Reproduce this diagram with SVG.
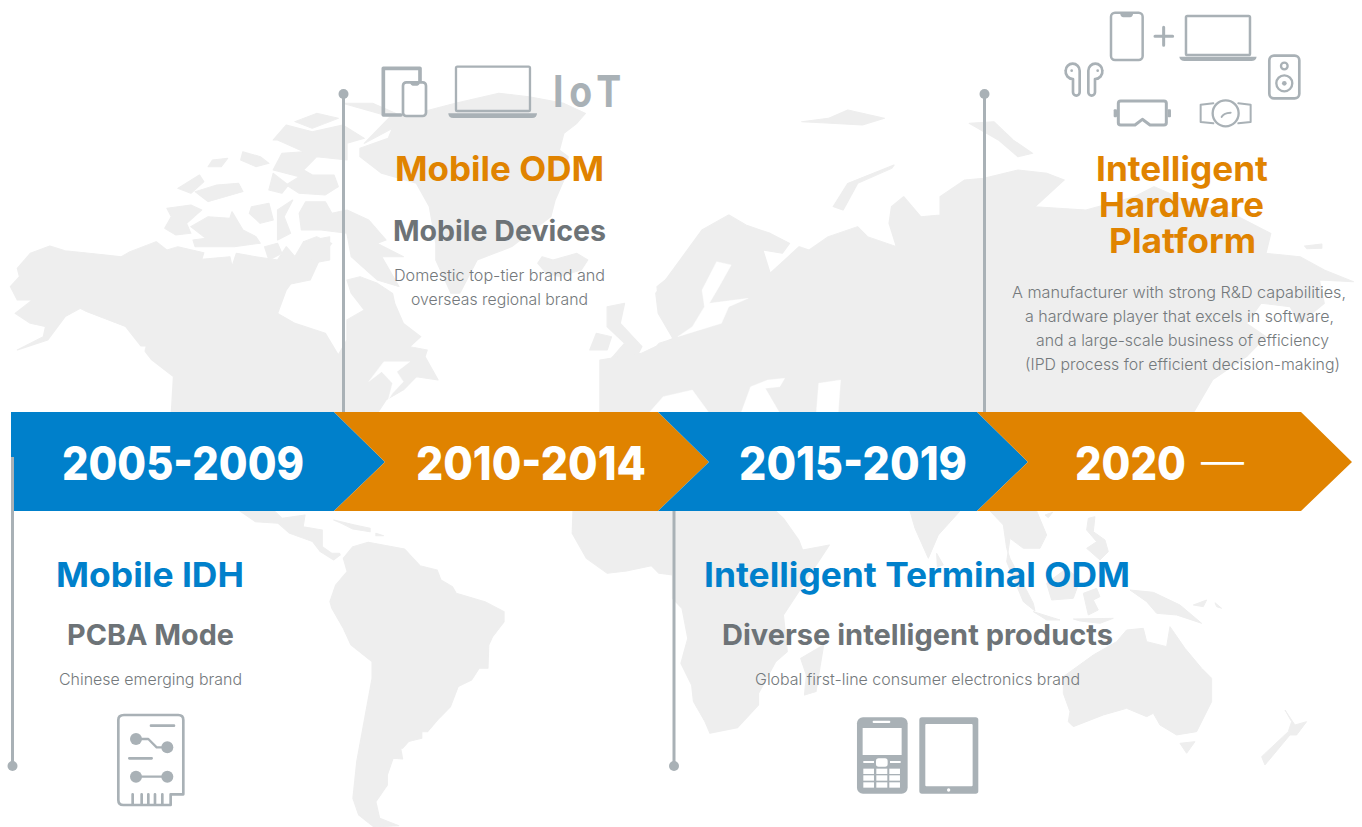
<svg xmlns="http://www.w3.org/2000/svg" width="1362" height="827" viewBox="0 0 1362 827">
<style>
.land{fill:#eeeeee;stroke:#eeeeee;stroke-width:3;stroke-linejoin:round}
.gap{fill:#ffffff;stroke:#ffffff;stroke-width:1;stroke-linejoin:round}
.t{font-family:"Inter","Noto Sans",sans-serif;text-anchor:start}
.yr{font-size:47px;font-weight:800;fill:#ffffff}
.h1{font-size:34px;font-weight:700}
.h2{font-size:29px;font-weight:700;fill:#6d7377}
.d{font-size:16px;font-weight:300;fill:#74797c}
.o{fill:#e08300}
.b{fill:#0080cb}
.ic{fill:none;stroke:#a9b1b6;stroke-linejoin:round;stroke-linecap:round}
.if{fill:#a9b1b6}
.w{fill:#ffffff}
.lk{stroke:#a9b1b6;stroke-width:3;fill:none}
.dot{fill:#a9b1b6}
</style>
<rect width="1362" height="827" fill="#ffffff"/>
<g id="map">
<g transform="translate(0,60) scale(.4337,.3333)">
<polygon class="land" points="24,680 45,650 40,625 70,580 115,558 150,572 280,590 300,575 360,545 385,570 410,560 470,578 465,598 530,590 535,620 545,580 590,590 640,600 660,560 680,590 700,545 730,530 765,550 740,590 715,660 670,672 660,690 640,760 680,790 750,820 780,885 800,840 800,780 840,750 810,700 800,660 830,650 870,670 905,700 910,730 930,790 970,830 945,860 985,870 980,890 1010,960 960,950 930,990 890,1020 870,1060 395,1060 400,950 350,900 320,850 290,800 200,755 185,745 150,770 110,840 40,870 100,830 105,800 70,790 35,760 75,720 40,720"/>
<polygon class="gap" points="850,965 885,905 945,905 915,935 930,965 905,1000 895,1020 905,970 880,935"/>
<polygon class="gap" points="315,860 335,860 330,890 318,885"/>
<polygon class="land" points="385,445 440,435 465,450 430,490 440,520 405,525 380,505 395,470"/>
<polygon class="land" points="440,500 480,470 530,475 535,455 560,510 590,530 600,550 540,560 450,560 445,540 475,535"/>
<polygon class="land" points="410,385 460,345 470,365 440,400"/>
<polygon class="land" points="450,395 500,375 550,370 560,395 480,425"/>
<polygon class="land" points="490,300 525,295 510,320 480,320"/>
<polygon class="land" points="560,275 600,290 620,310 590,320 555,300"/>
<polygon class="land" points="630,240 660,195 720,215 790,195 840,235 800,250 800,300 730,290 700,330 720,345 770,345 780,380 750,405 690,400 660,375 690,350 630,330 650,280 700,275 640,240"/>
<polygon class="land" points="680,185 730,160 780,175 720,205"/>
<polygon class="land" points="690,460 705,425 750,425 765,460 800,450 850,480 890,540 870,550 930,590 880,590 920,680 870,660 810,590 800,520 740,510 695,510"/>
<polygon class="land" points="640,450 675,420 655,470 670,520 640,540"/>
<polygon class="land" points="580,440 620,430 630,480 600,490 575,460"/>
<polygon class="land" points="610,560 640,550 650,580 620,600"/>
<polygon class="land" points="700,545 760,530 760,600 720,610"/>
<polygon class="land" points="630,340 665,375 650,400 620,390"/>
<polygon class="land" points="790,130 860,130 930,170 1050,130 1150,100 1220,110 1300,130 1350,160 1330,190 1300,220 1290,270 1310,290 1300,360 1280,420 1270,470 1180,560 1100,600 1060,700 1040,700 1005,600 1005,550 990,440 960,370 880,340 830,290 830,265 895,235 905,205 840,250 900,170"/>
<polygon class="land" points="1240,610 1250,590 1275,600 1330,580 1355,600 1340,630 1290,650 1260,640"/>
<polygon class="land" points="1400,740 1440,730 1430,790 1480,860 1470,885 1410,895 1440,850 1400,800"/>
<polygon class="land" points="1360,870 1375,820 1410,830 1400,870"/>
<polygon class="land" points="1390,1060 1385,1020 1450,1000 1430,930 1500,880 1520,850 1568,830 1568,1060"/>
<polygon class="land" points="1515,680 1568,625 1568,750 1520,750"/>
</g>
<g transform="translate(600,90) scale(.486,.3333)">
<polygon class="land" points="115,610 180,480 210,420 265,375 300,405 350,430 390,460 375,490 335,480 350,550 380,510 410,470 430,480 470,440 530,410 550,440 610,470 595,400 600,350 625,320 660,380 700,375 700,320 750,270 790,265 860,240 920,250 955,270 895,350 1000,360 1100,320 1140,290 1220,340 1300,370 1380,430 1370,490 1440,500 1490,540 1550,575 1480,570 1490,640 1440,700 1420,650 1360,640 1330,700 1370,740 1330,800 1260,870 1220,970 0,970 0,810 85,790 150,745 120,670"/>
<polygon class="land" points="480,350 510,280 605,225 600,235 530,280 500,360"/>
<polygon class="land" points="415,95 470,85 510,60 585,85 540,105 475,100"/>
<polygon class="land" points="760,100 810,95 850,150 890,190 860,200 820,150"/>
<polygon class="land" points="1450,468 1485,462 1485,475 1455,476"/>
<polygon class="gap" points="240,515 270,525 245,590 225,640 305,625 265,650 250,700 160,740 190,710 215,650 210,600"/>
<polygon class="gap" points="290,970 310,890 345,870 380,865 370,890 340,895 370,970"/>
<polygon class="gap" points="445,970 450,880 495,870 490,970"/>
<polygon class="gap" points="100,970 130,920 190,900 225,970"/>
</g>
<g transform="translate(240,505) scale(.3827,.3333)">
<polygon class="land" points="235,290 250,240 280,200 270,160 295,125 335,112 430,132 470,182 515,195 525,225 555,245 565,265 640,290 690,320 690,350 660,395 650,420 648,490 625,490 605,525 570,545 550,605 520,640 490,680 475,680 475,700 440,710 425,730 420,730 425,762 400,760 385,810 385,840 355,890 365,940 415,962 350,966 310,930 295,880 305,770 345,520 345,470 290,420 270,370 240,310"/>
<polygon class="land" points="0,18 40,50 100,55 130,85 190,110 210,140 245,165 262,150 260,145 240,145 215,125 215,75 165,65 170,30 110,40 90,18"/>
<polygon class="land" points="245,45 300,60 340,70 340,80 295,72 265,55"/>
<polygon class="land" points="355,85 375,92 355,92"/>
<polygon class="land" points="870,18 868,85 905,160 960,205 1010,198 1075,182 1095,205 1130,210 1130,280 1155,310 1170,400 1152,475 1180,540 1185,590 1215,650 1228,685 1300,668 1355,600 1355,565 1400,470 1430,440 1420,330 1460,260 1540,120 1470,135 1460,105 1420,40 1400,18"/>
<polygon class="land" points="1465,460 1525,420 1505,560 1475,570 1480,510"/>
</g>
<g transform="translate(860,505) scale(.3333)">
<polygon class="land" points="150,18 165,70 205,160 235,90 300,18"/>
<polygon class="land" points="230,145 250,180 232,185"/>
<polygon class="land" points="390,18 430,60 440,130 450,160 520,295 525,318 490,290 440,170 450,100 490,130 540,130 560,90 530,18"/>
<polygon class="land" points="555,30 578,22 565,38"/>
<polygon class="land" points="560,235 620,190 660,225 640,280 575,285"/>
<polygon class="land" points="685,40 705,35 700,80 735,105 745,140 720,165 680,130 710,110 680,75"/>
<polygon class="land" points="670,265 710,250 720,275 700,285 715,315 685,330"/>
<polygon class="land" points="520,320 600,345 560,345"/>
<polygon class="land" points="640,342 760,340 720,355 660,348"/>
<polygon class="land" points="810,255 880,262 960,300 1025,355 950,330 890,325 860,290"/>
<polygon class="land" points="610,515 700,450 770,410 800,375 850,370 860,410 920,425 930,365 975,430 1025,490 1055,520 1055,590 1010,680 950,690 900,660 880,625 860,635 800,610 730,630 640,665 625,650 630,620 610,565"/>
<polygon class="land" points="960,715 1005,710 980,745"/>
<polygon class="land" points="1275,615 1305,660 1340,650 1310,690 1290,690 1215,780 1205,755 1285,680 1295,650"/>
<polygon class="land" points="1000,300 1040,285 1030,305"/>
<polygon class="land" points="1065,293 1085,310 1070,305"/>
</g>
</g>
<g id="band">
<polygon class="b" points="11,412 334,412 385,462 334,511 11,511"/>
<polygon class="o" points="334,412 658,412 709,462 658,511 334,511 385,462"/>
<polygon class="b" points="658,412 977,412 1028,462 977,511 658,511 709,462"/>
<polygon class="o" points="977,412 1301,412 1352,462 1301,511 977,511 1028,462"/>
<text class="t yr" x="62" y="480" textLength="242" lengthAdjust="spacingAndGlyphs">2005-2009</text>
<text class="t yr" x="416" y="480" textLength="230" lengthAdjust="spacingAndGlyphs">2010-2014</text>
<text class="t yr" x="739" y="480" textLength="228" lengthAdjust="spacingAndGlyphs">2015-2019</text>
<text class="t yr" x="1075" y="480" textLength="111" lengthAdjust="spacingAndGlyphs">2020</text>
<text class="t" x="1201" y="477" font-size="44" font-weight="300" fill="#ffffff" textLength="43" lengthAdjust="spacingAndGlyphs">—</text>
</g>
<g id="connectors">
<path class="lk" d="M12.5 457V766M343.5 94V412M674 511V766M984.5 94V412"/>
<circle class="dot" cx="12.5" cy="766" r="5"/>
<circle class="dot" cx="343.5" cy="94" r="5"/>
<circle class="dot" cx="674" cy="766" r="5"/>
<circle class="dot" cx="984.5" cy="94" r="5"/>
</g>
<g id="node-2005">
<text class="t h1 b" x="56" y="587" textLength="188" lengthAdjust="spacingAndGlyphs">Mobile IDH</text>
<text class="t h2" x="67" y="645" textLength="167" lengthAdjust="spacingAndGlyphs">PCBA Mode</text>
<text class="t d" x="59" y="685" textLength="183" lengthAdjust="spacingAndGlyphs">Chinese emerging brand</text>
<g transform="translate(0,700) scale(.3333)">
<path class="ic" stroke-width="8" d="M372 45H535Q550 45 550 60V283H512V315H370Q355 315 355 300V60Q355 45 372 45ZM398 283V315M425 283V315M445 283V315M465 283V315M487 283V315M453 77H522M388 175H455"/>
<path class="ic" stroke-width="7" d="M408 117H445L470 142H502M408 230H502"/>
<circle class="if" cx="408" cy="117" r="18"/><circle class="if" cx="502" cy="142" r="18"/>
<circle class="if" cx="408" cy="230" r="18"/><circle class="if" cx="502" cy="230" r="18"/>
</g>
</g>
<g id="node-2010">
<g transform="translate(330,50) scale(.3333)">
<path class="ic" stroke-width="11" stroke-linecap="butt" d="M213 195H160V55H270V95"/>
<rect x="219" y="97" width="69" height="101" rx="10" fill="#ffffff" stroke="#a9b1b6" stroke-width="8"/>
<path class="if" d="M240 97H270Q268 107 262 107H248Q242 107 240 97Z"/>
<rect class="ic" stroke-width="7" x="378" y="50" width="222" height="133" rx="4"/>
<path class="if" d="M355 190H621Q621 204 606 204H370Q355 204 355 190Z"/>
</g>
<text class="t" transform="translate(553,107) scale(.85,1)" x="0 19 51" y="0" font-size="44" font-weight="700" fill="#a9b1b6">IoT</text>
<text class="t h1 o" x="395" y="181" textLength="209" lengthAdjust="spacingAndGlyphs">Mobile ODM</text>
<text class="t h2" x="393" y="241" textLength="213" lengthAdjust="spacingAndGlyphs">Mobile Devices</text>
<text class="t d" x="394" y="281" textLength="211" lengthAdjust="spacingAndGlyphs">Domestic top-tier brand and</text>
<text class="t d" x="411" y="305" textLength="177" lengthAdjust="spacingAndGlyphs">overseas regional brand</text>
</g>
<g id="node-2015">
<text class="t h1 b" x="704" y="587" textLength="426" lengthAdjust="spacingAndGlyphs">Intelligent Terminal ODM</text>
<text class="t h2" x="722" y="645" textLength="391" lengthAdjust="spacingAndGlyphs">Diverse intelligent products</text>
<text class="t d" x="755" y="685" textLength="325" lengthAdjust="spacingAndGlyphs">Global first-line consumer electronics brand</text>
<g transform="translate(660,700) scale(.3333)">
<rect class="if" x="591" y="52" width="152" height="229" rx="18"/>
<rect class="w" x="638" y="62" width="53" height="7" rx="3"/>
<rect class="w" x="608" y="84" width="117" height="81"/>
<rect class="w" x="648" y="175" width="35" height="25" rx="8"/>
<rect class="w" x="610" y="183" width="32" height="6"/><rect class="w" x="690" y="183" width="32" height="6"/>
<rect class="w" x="610" y="206" width="32" height="16"/><rect class="w" x="649" y="206" width="33" height="16"/><rect class="w" x="688" y="206" width="32" height="16"/>
<rect class="w" x="610" y="226" width="32" height="16"/><rect class="w" x="649" y="226" width="33" height="16"/><rect class="w" x="688" y="226" width="32" height="16"/>
<rect class="w" x="610" y="247" width="32" height="16"/><rect class="w" x="649" y="247" width="33" height="16"/><rect class="w" x="688" y="247" width="32" height="16"/>
<rect class="if" x="778" y="52" width="177" height="229" rx="8"/>
<rect class="w" x="796" y="72" width="142" height="187" rx="3"/>
<circle class="w" cx="866" cy="270" r="5"/>
</g>
</g>
<g id="node-2020">
<g transform="translate(1050,0) scale(.3333)">
<rect class="ic" stroke-width="7.5" x="183" y="38" width="95" height="142" rx="12"/>
<path class="if" d="M210 38H250Q248 52 240 52H220Q212 52 210 38Z"/>
<path class="ic" stroke-width="9" stroke-linecap="butt" d="M341 82V136M315 109H368"/>
<rect class="ic" stroke-width="7.5" x="408" y="48" width="192" height="117" rx="4"/>
<path class="if" d="M388 170H620Q618 183 604 183H404Q390 183 388 170Z"/>
<path class="ic" stroke-width="8" d="M47 212a21 21 0 0 1 42 0v65a10 10 0 0 1-20 0v-40a22 22 0 0 1-22-25Z"/>
<path class="ic" stroke-width="8" d="M157 212a21 21 0 0 0-42 0v65a10 10 0 0 0 20 0v-40a22 22 0 0 0 22-25Z"/>
<circle class="if" cx="65" cy="212" r="4"/><circle class="if" cx="143" cy="212" r="4"/>
<rect class="ic" stroke-width="8" x="658" y="167" width="90" height="128" rx="14"/>
<circle class="ic" stroke-width="7" cx="703" cy="198" r="10"/>
<circle class="ic" stroke-width="7" cx="703" cy="250" r="24"/>
<circle class="if" cx="703" cy="250" r="7"/>
<path class="ic" stroke-width="9" d="M212 303H342Q349 303 349 310V368Q349 375 342 375H300L277 358L255 375H212Q205 375 205 368V310Q205 303 212 303Z"/>
<rect class="if" x="191" y="328" width="10" height="24" rx="3"/><rect class="if" x="353" y="328" width="10" height="24" rx="3"/>
<path class="ic" stroke-width="6" d="M490 310L452 314V366L490 370M565 310L602 314V366L565 370"/>
<circle cx="527" cy="340" r="39" fill="#ffffff" stroke="#a9b1b6" stroke-width="7"/>
<path class="ic" stroke-width="6" d="M515 351Q520 339 542 338"/>
</g>
<text class="t h1 o" x="1096" y="181" textLength="172" lengthAdjust="spacingAndGlyphs">Intelligent</text>
<text class="t h1 o" x="1099" y="217" textLength="165" lengthAdjust="spacingAndGlyphs">Hardware</text>
<text class="t h1 o" x="1109" y="253" textLength="147" lengthAdjust="spacingAndGlyphs">Platform</text>
<text class="t d" x="1012" y="298" textLength="334" lengthAdjust="spacingAndGlyphs">A manufacturer with strong R&amp;D capabilities,</text>
<text class="t d" x="1025" y="322" textLength="309" lengthAdjust="spacingAndGlyphs">a hardware player that excels in software,</text>
<text class="t d" x="1036" y="346" textLength="293" lengthAdjust="spacingAndGlyphs">and a large-scale business of efficiency</text>
<text class="t d" x="1025" y="370" textLength="315" lengthAdjust="spacingAndGlyphs">(IPD process for efficient decision-making)</text>
</g>
</svg>
